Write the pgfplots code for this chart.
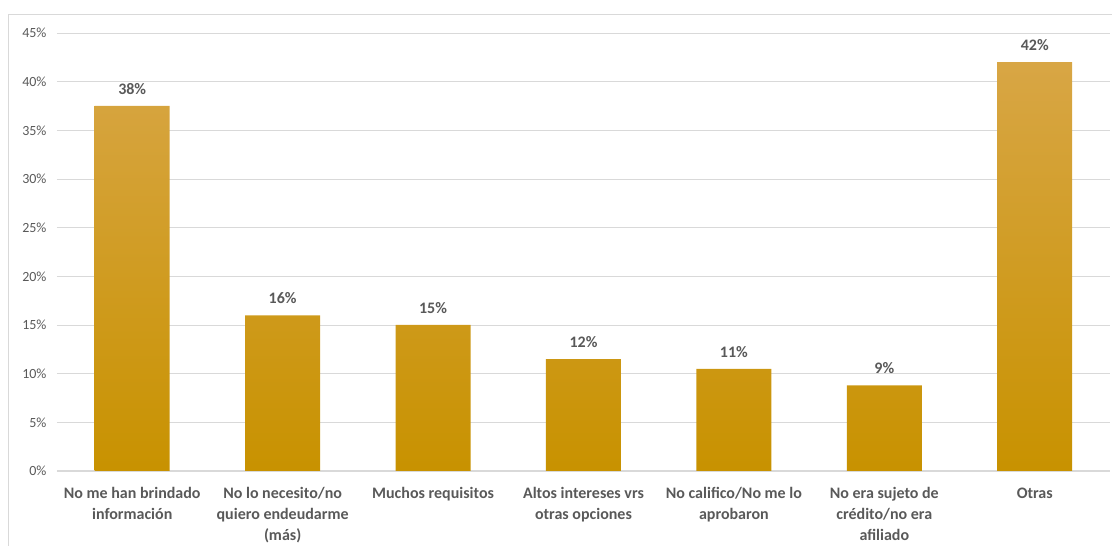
\documentclass[border=0pt]{standalone}
\usepackage{pgfplots}
\pgfplotsset{compat=1.18}
\usepackage{fontspec}
\setmainfont{Carlito}
\definecolor{txt}{HTML}{595959}
\definecolor{gridc}{HTML}{D9D9D9}
\definecolor{bartop}{HTML}{D8A645}
\definecolor{barmid}{HTML}{D4A000}
\definecolor{barbot}{HTML}{C89200}
\begin{document}
\begin{tikzpicture}
\useasboundingbox (0pt,0pt) rectangle (1112pt,546pt);
\draw[gridc, line width=1pt] (8pt,-5pt) -- (8pt,531pt) -- (1120pt,531pt);
\begin{axis}[
  at={(57pt,75pt)}, anchor=south west,
  scale only axis, width=1053pt, height=438pt,
  xmin=-0.5, xmax=6.5, ymin=0, ymax=45,
  ytick={0,5,...,45},
  yticklabel={\pgfmathprintnumber{\tick}\%},
  /pgf/number format/assume math mode=true,
  axis x line*=bottom, axis y line*=left,
  x axis line style={gridc, line width=1pt, -},
  y axis line style={draw=none},
  major tick length=0pt,
  xtick style={draw=none}, ytick style={draw=none},
  ymajorgrids, grid style={gridc, line width=0.8pt},
  yticklabel style={font=\fontsize{14}{16}\selectfont, text=txt, xshift=-7pt},
  xtick=data,
  xticklabels={{No me han brindado\\información},{No lo necesito/no\\quiero endeudarme\\(más)},{Muchos requisitos},{Altos intereses vrs\\otras opciones},{No califico/No me lo\\aprobaron},{No era sujeto de\\crédito/no era\\afiliado},{Otras}},
  xticklabel style={align=center, font=\bfseries\fontsize{16}{21}\selectfont, text=txt, yshift=-13pt},
  nodes near coords,
  point meta=explicit symbolic,
  nodes near coords style={font=\bfseries\fontsize{16}{19}\selectfont, text=txt, anchor=south, yshift=8pt},
]
\addplot[ybar, bar width=75pt, draw=none, top color=bartop, middle color=barmid, bottom color=barbot]
coordinates {
(0,37.5) [38\%]
(1,16.0) [16\%]
(2,15.0) [15\%]
(3,11.5) [12\%]
(4,10.5) [11\%]
(5,8.8) [9\%]
(6,42.0) [42\%]
};
\end{axis}
\end{tikzpicture}
\end{document}
